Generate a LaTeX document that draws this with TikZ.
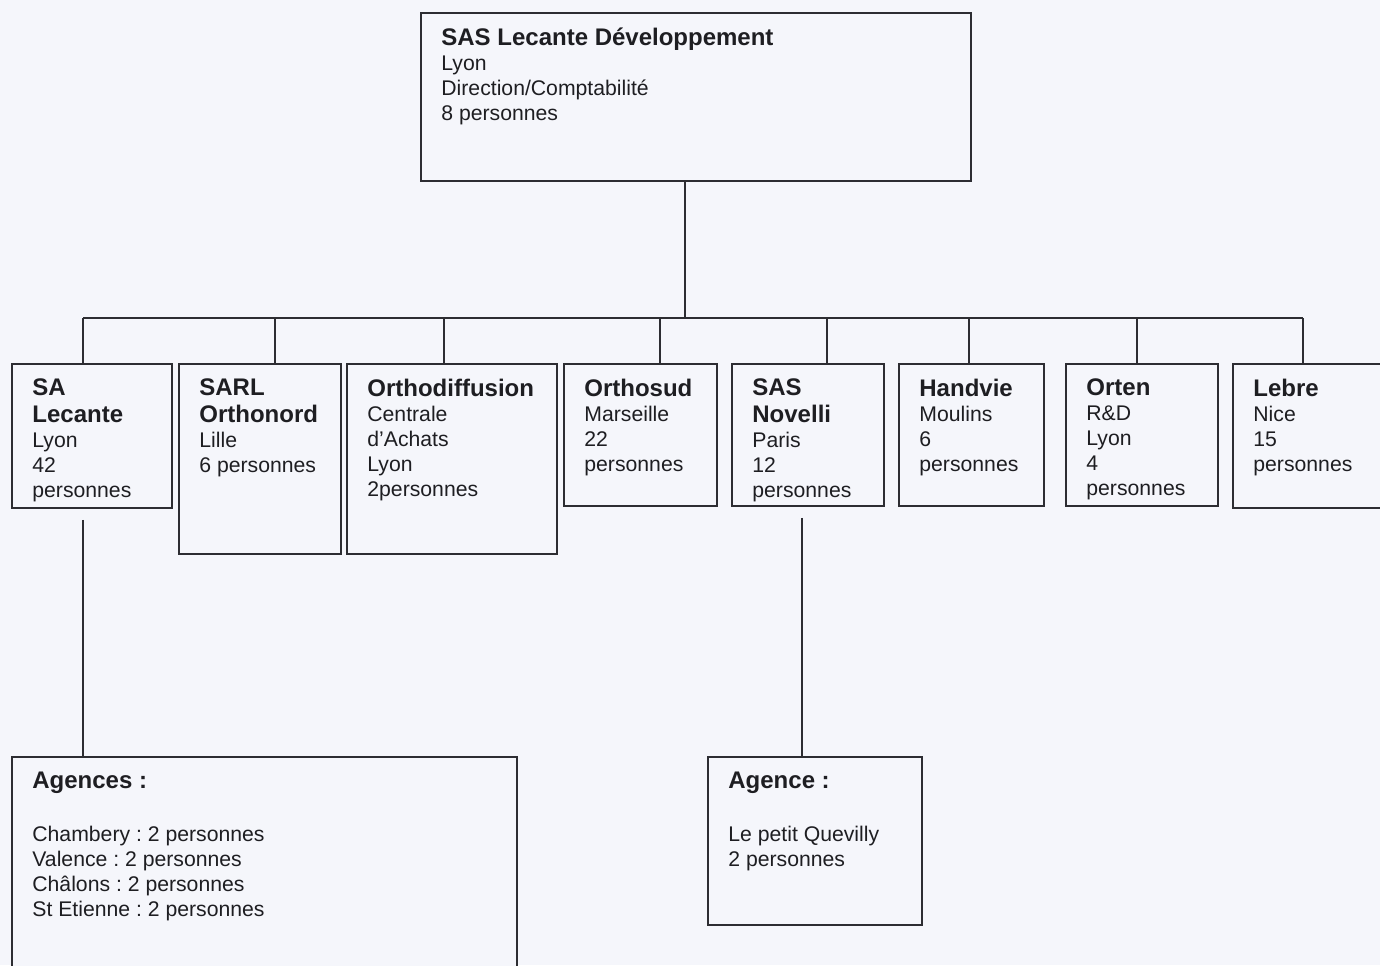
\documentclass[tikz,border=0pt]{standalone}
\usepackage{fontspec}
\setmainfont{Liberation Sans}
\usepackage{xcolor}
\definecolor{paper}{RGB}{245,246,251}
\definecolor{ink}{RGB}{30,30,34}
\definecolor{rule}{RGB}{45,45,50}
\frenchspacing

\tikzset{
  unitbox/.style={draw=rule,fill=paper,line width=0.9pt,inner sep=0pt,anchor=north west},
  unittext/.style={anchor=north west,align=left,inner sep=0pt,text=ink,
                   font=\fontsize{10.6}{12.5}\selectfont,
                   execute at begin node=\rule{0pt}{10pt}},
  link/.style={draw=rule,line width=0.9pt},
}
\newcommand{\unitname}[1]{{\fontsize{12}{13.5}\selectfont\bfseries #1}}

\begin{document}
\begin{tikzpicture}[x=0.5pt,y=-0.5pt]
\fill[paper] (0,0) rectangle (1380,965);
\useasboundingbox (0,0) rectangle (1380,965);
\clip (0,0) rectangle (1380,965);

% boxes
\node[unitbox,minimum width=275pt,minimum height=84pt] (top) at (420,12) {};
\node[unitbox,minimum width=80pt,minimum height=72pt] (sa) at (11,363) {};
\node[unitbox,minimum width=81pt,minimum height=95pt] (orthonord) at (178,363) {};
\node[unitbox,minimum width=105pt,minimum height=95pt] (orthodiff) at (346,363) {};
\node[unitbox,minimum width=76.5pt,minimum height=71pt] (orthosud) at (563,363) {};
\node[unitbox,minimum width=76pt,minimum height=71pt] (novelli) at (731,363) {};
\node[unitbox,minimum width=72.5pt,minimum height=71pt] (handvie) at (898,363) {};
\node[unitbox,minimum width=76pt,minimum height=71pt] (orten) at (1065,363) {};
\node[unitbox,minimum width=80pt,minimum height=72pt] (lebre) at (1232,363) {};
\node[unitbox,minimum width=252.5pt,minimum height=115pt] (agences) at (11,756) {};
\node[unitbox,minimum width=107pt,minimum height=84pt] (agence) at (707,756) {};

% texts
\node[unittext] (top-t) at ([shift={(21,15.5)}]top.north west)
  {\unitname{SAS Lecante Développement}\\Lyon\\Direction/Comptabilité\\8 personnes};
\node[unittext] (sa-t) at ([shift={(21,15.5)}]sa.north west)
  {\unitname{SA}\\[1pt]\unitname{Lecante}\\Lyon\\42\\personnes};
\node[unittext] (orthonord-t) at ([shift={(21,15.5)}]orthonord.north west)
  {\unitname{SARL}\\[1pt]\unitname{Orthonord}\\Lille\\6 personnes};
\node[unittext] (orthodiff-t) at ([shift={(21,15.5)}]orthodiff.north west)
  {\unitname{Orthodiffusion}\\Centrale\\d’Achats\\Lyon\\2personnes};
\node[unittext] (orthosud-t) at ([shift={(21,15.5)}]orthosud.north west)
  {\unitname{Orthosud}\\Marseille\\22\\personnes};
\node[unittext] (novelli-t) at ([shift={(21,15.5)}]novelli.north west)
  {\unitname{SAS}\\[1pt]\unitname{Novelli}\\Paris\\12\\personnes};
\node[unittext] (handvie-t) at ([shift={(21,15.5)}]handvie.north west)
  {\unitname{Handvie}\\Moulins\\6\\personnes};
\node[unittext] (orten-t) at ([shift={(21,15.5)}]orten.north west)
  {\unitname{Orten}\\R\&D\\Lyon\\4\\personnes};
\node[unittext] (lebre-t) at ([shift={(21,15.5)}]lebre.north west)
  {\unitname{Lebre}\\Nice\\15\\personnes};
\node[unittext] (agences-t) at ([shift={(21,15.5)}]agences.north west)
  {\unitname{Agences :}\\[14pt]Chambery : 2 personnes\\Valence : 2 personnes\\
   Châlons : 2 personnes\\St Etienne : 2 personnes};
\node[unittext] (agence-t) at ([shift={(21,15.5)}]agence.north west)
  {\unitname{Agence :}\\[14pt]Le petit Quevilly\\2 personnes};

% connectors
\coordinate (hub) at (685,318);
\foreach \i/\x in {1/83,2/275,3/444,4/660,5/827,6/969,7/1137,8/1303}
  \coordinate (b\i) at (\x,318);
\coordinate (nv) at (802,318);

\draw[link] (hub |- top.south) -- (hub);
\draw[link] (b1) -- (b8);
\foreach \b/\u in {b1/sa,b2/orthonord,b3/orthodiff,b4/orthosud,
                   b5/novelli,b6/handvie,b7/orten,b8/lebre}
  \draw[link] (\b) -- (\b |- \u.north);

\draw[link,shorten <=5.5pt] (b1 |- sa.south) -- (b1 |- agences.north);
\draw[link,shorten <=5.5pt] (nv |- novelli.south) -- (nv |- agence.north);
\end{tikzpicture}
\end{document}
